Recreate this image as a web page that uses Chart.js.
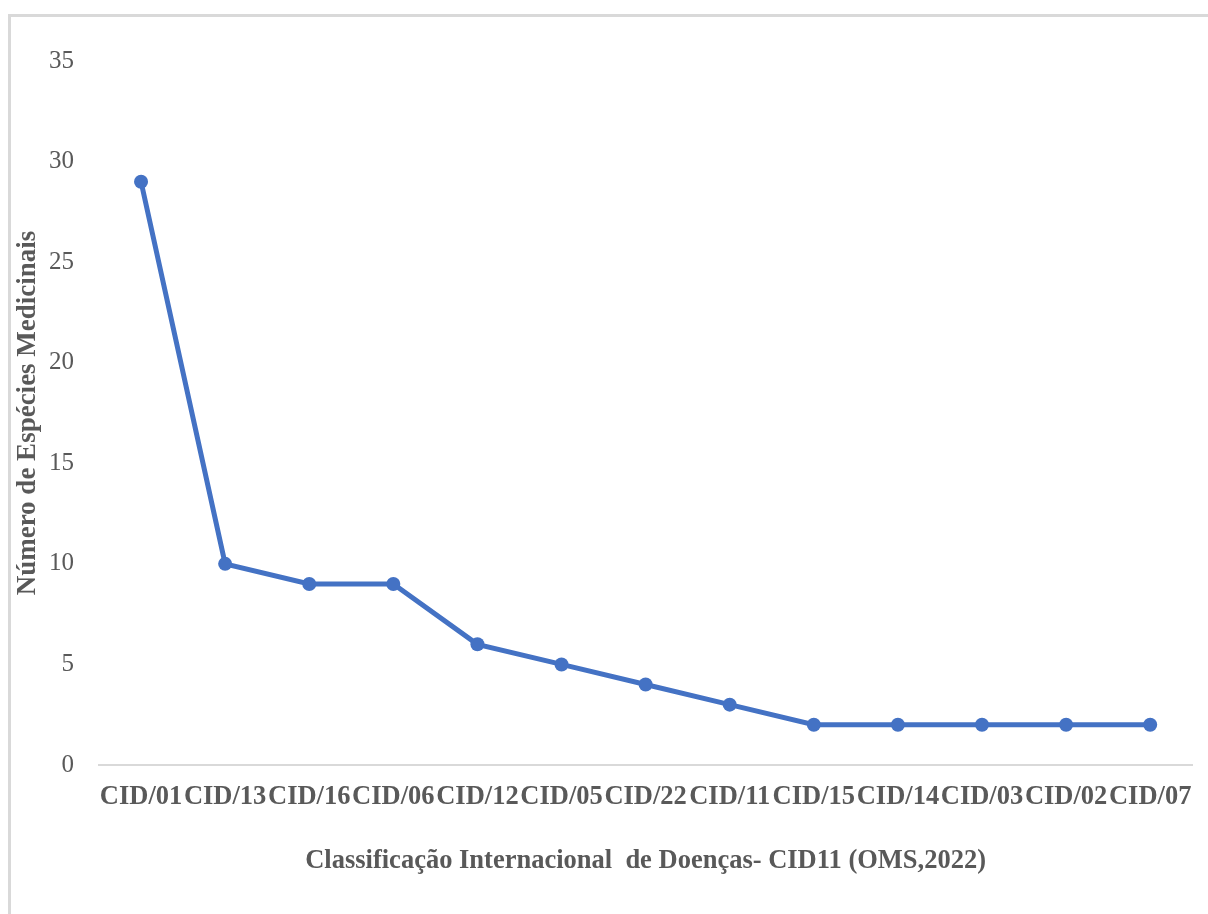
<!DOCTYPE html>
<html>
<head>
<meta charset="utf-8">
<script src="https://cdn.jsdelivr.net/npm/chart.js@4/dist/chart.umd.min.js"></script>
<style>
  html, body { margin: 0; padding: 0; background: #ffffff; }
  #wrap { position: relative; width: 1208px; height: 914px; overflow: hidden; }
  #frame {
    position: absolute; left: 8px; top: 14px; width: 1300px; height: 1000px;
    border-top: 3px solid #d9d9d9; border-left: 3px solid #d9d9d9; box-sizing: border-box;
  }
  canvas { position: absolute; left: 0; top: 0; }
</style>
</head>
<body>
<div id="wrap">
  <div id="frame"></div>
  <canvas id="c" width="1208" height="914"></canvas>
</div>
<script>
// Disease chapters (ICD-11) and number of medicinal species for each
const categories = ['CID/01', 'CID/13', 'CID/16', 'CID/06', 'CID/12', 'CID/05', 'CID/22',
                    'CID/11', 'CID/15', 'CID/14', 'CID/03', 'CID/02', 'CID/07'];
const speciesCount = [29, 10, 9, 9, 6, 5, 4, 3, 2, 2, 2, 2, 2];
const yTicks = [0, 5, 10, 15, 20, 25, 30, 35];

const xTitle = 'Classificação Internacional  de Doenças- CID11 (OMS,2022)';
const yTitle = 'Número de Espécies Medicinais';

const lineColor = '#4472C4';
const textColor = '#595959';
const serif = "'Liberation Serif', 'Times New Roman', serif";

new Chart(document.getElementById('c'), {
  type: 'line',
  data: {
    labels: categories,
    datasets: [{
      data: speciesCount,
      borderColor: lineColor,
      backgroundColor: lineColor,
      borderWidth: 5,
      pointRadius: 7,
      pointBorderWidth: 0,
      pointBackgroundColor: lineColor,
      tension: 0,
      fill: false
    }]
  },
  options: {
    responsive: false,
    animation: false,
    layout: { padding: { left: 10, top: 61, right: 15, bottom: 30 } },
    plugins: { legend: { display: false }, tooltip: { enabled: false } },
    scales: {
      x: {
        offset: true,
        grid: { display: false, drawTicks: false },
        border: { display: true, color: '#d9d9d9', width: 2 },
        ticks: {
          autoSkip: false, maxRotation: 0, minRotation: 0, padding: 16,
          color: textColor, font: { family: serif, size: 26.5, weight: 'bold' }
        },
        title: {
          display: true, text: xTitle, color: textColor,
          font: { family: serif, size: 26.5, weight: 'bold' },
          padding: { top: 33, bottom: 7 }
        },
        afterFit: (scale) => { scale.height = 914 - 30 - 765; }
      },
      y: {
        min: 0, max: 35,
        grid: { display: false, drawTicks: false },
        border: { display: false },
        afterBuildTicks: (scale) => { scale.ticks = yTicks.map(v => ({ value: v })); },
        ticks: {
          padding: 25, color: textColor,
          font: { family: serif, size: 25 }
        },
        title: {
          display: true, text: yTitle, color: textColor,
          font: { family: serif, size: 27, weight: 'bold' },
          padding: { top: 2, bottom: 0 }
        },
        afterFit: (scale) => { scale.width = 99 - 10; }
      }
    }
  }
});
</script>
</body>
</html>
